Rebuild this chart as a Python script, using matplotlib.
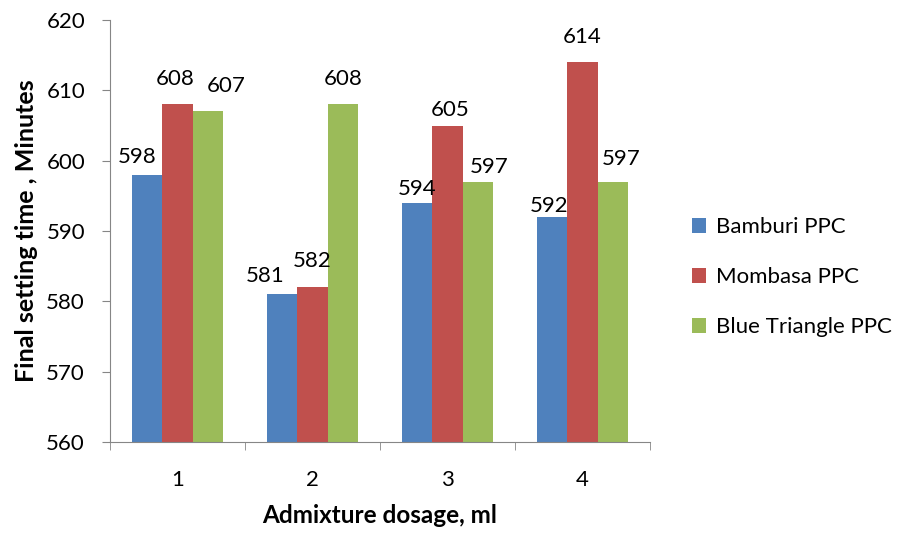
import matplotlib.pyplot as plt
import numpy as np

plt.rcParams['font.family'] = ['Lato', 'DejaVu Sans']

dosages = ['1', '2', '3', '4']
series = ['Bamburi PPC', 'Mombasa PPC', 'Blue Triangle PPC']
bamburi = [598, 581, 594, 592]
mombasa = [608, 582, 605, 614]
blue_triangle = [607, 608, 597, 597]
colors = ['#4F81BD', '#C0504D', '#9BBB59']

# hand-placed label nudges (pixels) so the numbers don't collide
nudges = [
    [(-10, 8), (-17, 8), (0, 4), (-3, 1)],
    [(-2, 15), (0, 16), (3, 6), (0, 15)],
    [(18, 15), (0, 15), (11, 5), (8, 13)],
]

fig = plt.figure(figsize=(9.07, 5.34), dpi=100)
ax = fig.add_axes([0.1213, 0.1723, 0.5953, 0.7902])

x = np.arange(len(dosages))
width = 0.225
for i, (vals, name) in enumerate(zip([bamburi, mombasa, blue_triangle], series)):
    pos = x + (i - 1) * width
    ax.bar(pos, np.array(vals) - 560, width, bottom=560, color=colors[i], label=name)
    for p, v, off in zip(pos, vals, nudges[i]):
        ax.annotate(str(v), (p, v), xytext=off, textcoords='offset pixels',
                    ha='center', va='bottom', fontsize=16)

ax.set_ylim(560, 620)
ax.set_yticks(range(560, 621, 10))
ax.set_xlim(-0.5, len(dosages) - 0.5)
ax.set_xticks(x)
ax.set_xticklabels(dosages)
ax.set_xticks(np.arange(-0.5, len(dosages)), minor=True)
ax.tick_params(axis='x', which='major', length=0, pad=20, labelsize=16)
ax.tick_params(axis='x', which='minor', length=6, color='#868686')
ax.tick_params(axis='y', length=6, pad=12, color='#868686', labelsize=16)

for side in ['top', 'right']:
    ax.spines[side].set_visible(False)
for side in ['left', 'bottom']:
    ax.spines[side].set_color('#868686')

ax.set_xlabel('Admixture dosage, ml', fontsize=17.5, fontweight='bold', labelpad=10)
ax.set_ylabel('Final setting time , Minutes', fontsize=18, fontweight='bold', labelpad=6)

ax.legend(loc='center left', bbox_to_anchor=(1.04, 0.39), frameon=False, fontsize=16,
          handlelength=0.65, handleheight=0.65, labelspacing=1.35, handletextpad=0.45)

fig.savefig('out.png', dpi=100)
